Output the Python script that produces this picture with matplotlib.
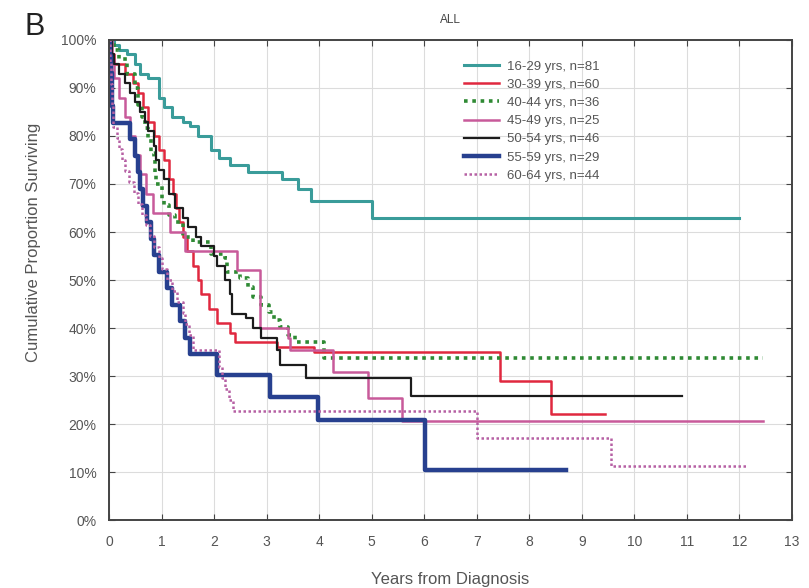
import matplotlib.pyplot as plt

plt.rcParams["font.family"] = ["Liberation Sans", "DejaVu Sans"]

# Kaplan-Meier curves by age group (years, % surviving); last point = end of follow-up
labels = ["16-29 yrs, n=81", "30-39 yrs, n=60", "40-44 yrs, n=36", "45-49 yrs, n=25",
          "50-54 yrs, n=46", "55-59 yrs, n=29", "60-64 yrs, n=44"]

t_1629 = [0, 0.1, 0.2, 0.35, 0.5, 0.6, 0.75, 0.95, 1.05, 1.2, 1.4, 1.55, 1.7, 1.95,
          2.1, 2.3, 2.65, 3.3, 3.6, 3.85, 5.0, 12.0]
s_1629 = [100, 99, 98, 97, 95, 93, 92, 88, 86, 84, 83, 82, 80, 77,
          75.5, 74, 72.5, 71, 69, 66.5, 63, 63]

t_3039 = [0, 0.1, 0.3, 0.45, 0.55, 0.65, 0.75, 0.85, 0.95, 1.05, 1.15, 1.22, 1.27,
          1.33, 1.4, 1.48, 1.6, 1.7, 1.75, 1.9, 2.05, 2.3, 2.4, 3.2, 3.9, 7.45, 8.42, 9.45]
s_3039 = [97, 95, 93, 91, 89, 86, 83, 80, 77, 75, 71, 68, 65,
          62, 59, 56, 53, 50, 47, 44, 41, 39, 37, 36, 35, 29, 22, 22]

t_4044 = [0, 0.1, 0.2, 0.35, 0.5, 0.55, 0.62, 0.68, 0.75, 0.8, 0.85, 0.88, 0.9, 1.0,
          1.05, 1.15, 1.25, 1.4, 1.6, 1.95, 2.2, 2.25, 2.5, 2.65, 2.75, 2.9, 3.05,
          3.15, 3.25, 3.4, 3.55, 4.1, 12.45]
s_4044 = [100, 98, 96, 93, 90, 86.5, 84, 81.7, 79.6, 76.5, 75, 72, 70, 66.7,
          65.6, 63.5, 62, 59, 58, 55.5, 54.5, 51.7, 50.4, 48.5, 46.5, 44.8, 43.3,
          41.7, 40.2, 38.5, 37, 33.7, 33.7]

t_4549 = [0, 0.05, 0.1, 0.2, 0.3, 0.4, 0.5, 0.6, 0.7, 0.84, 1.17, 1.45, 2.43, 2.87,
          3.4, 3.45, 4.27, 4.93, 5.57, 12.45]
s_4549 = [100, 96, 92, 88, 84, 80, 76, 72, 68, 64, 60, 56, 52, 40,
          38, 35.4, 30.8, 25.4, 20.6, 20.6]

t_5054 = [0, 0.05, 0.1, 0.2, 0.3, 0.4, 0.5, 0.6, 0.68, 0.75, 0.85, 0.9, 0.95, 1.05,
          1.15, 1.25, 1.4, 1.5, 1.65, 1.75, 2.0, 2.05, 2.2, 2.3, 2.35, 2.6, 2.75,
          2.9, 3.2, 3.25, 3.75, 5.75, 10.9]
s_5054 = [100, 97, 95, 93, 91, 89, 87, 85, 83, 81, 78, 75, 73, 71,
          68, 65, 63, 61, 59, 57, 55, 53, 50, 47, 43, 42, 40,
          38, 35.5, 32.3, 29.6, 25.8, 25.8]

t_5559 = [0, 0.02, 0.03, 0.05, 0.06, 0.08, 0.4, 0.5, 0.55, 0.6, 0.65, 0.72, 0.8, 0.85,
          0.95, 1.1, 1.2, 1.35, 1.45, 1.55, 2.05, 3.07, 3.98, 6.02, 8.7]
s_5559 = [100, 96.6, 93.1, 89.7, 86.2, 82.8, 79.3, 75.9, 72.4, 69, 65.5, 62.1, 58.6, 55.2,
          51.7, 48.3, 44.8, 41.4, 37.9, 34.5, 30.2, 25.6, 20.8, 10.4, 10.4]

t_6064 = [0, 0.02, 0.04, 0.06, 0.08, 0.15, 0.2, 0.25, 0.3, 0.38, 0.48, 0.55, 0.62, 0.7,
          0.78, 0.85, 0.95, 1.0, 1.1, 1.2, 1.3, 1.4, 1.45, 1.52, 1.6, 2.1, 2.15, 2.2,
          2.28, 2.37, 7.0, 9.55, 12.15]
s_6064 = [100, 95.5, 90.9, 86.4, 81.8, 79.5, 77.3, 75, 72.7, 70.5, 68.2, 65.9, 63.6, 61.4,
          59.1, 56.8, 54.5, 52.3, 50, 47.7, 45.5, 43.2, 40.9, 38.6, 35.5, 31.8, 29.5, 27.3,
          25, 22.7, 17, 11.2, 11.2]

fig = plt.figure(figsize=(8.09, 5.88), dpi=100)
ax = fig.add_axes([0.1347, 0.1156, 0.8443, 0.8164])

ax.step(t_1629, s_1629, where="post", color="#3a9c9a", lw=2.2, label=labels[0])
ax.step(t_3039, s_3039, where="post", color="#e0283f", lw=1.8, label=labels[1])
ax.step(t_4044, s_4044, where="post", color="#2f8a34", lw=2.6, ls=(0, (1, 1.3)), label=labels[2])
ax.step(t_4549, s_4549, where="post", color="#c85a9a", lw=1.8, label=labels[3])
ax.step(t_5054, s_5054, where="post", color="#1c1c1c", lw=1.6, label=labels[4])
ax.step(t_5559, s_5559, where="post", color="#27408f", lw=3.2, label=labels[5])
ax.step(t_6064, s_6064, where="post", color="#b660a4", lw=1.8, ls=(0, (1, 1)), label=labels[6])

ax.set_xlim(0, 13)
ax.set_ylim(0, 100)
ax.set_xticks(range(0, 14))
ax.set_yticks(range(0, 101, 10))
ax.set_yticklabels([f"{v}%" for v in range(0, 101, 10)])
ax.tick_params(direction="in", top=True, right=True, labelsize=10, labelcolor="#555555",
               color="#444444", length=4)
ax.tick_params(axis="x", pad=11)
ax.tick_params(axis="y", pad=9)
ax.grid(True, color="#dcdcdc", lw=0.8)
ax.set_axisbelow(True)
for sp in ax.spines.values():
    sp.set_color("#444444")
    sp.set_linewidth(1.4)

ax.set_xlabel("Years from Diagnosis", fontsize=12, color="#555555", labelpad=16)
ax.set_ylabel("Cumulative Proportion Surviving", fontsize=12, color="#555555")
ax.yaxis.set_label_coords(-0.1, 0.579)
ax.set_title("ALL", fontsize=8.5, color="#444444", pad=12)
fig.text(0.03, 0.94, "B", fontsize=22, color="#222222")

leg = ax.legend(loc="upper left", bbox_to_anchor=(0.503, 0.982), frameon=False, fontsize=9.5,
                handlelength=2.6, labelspacing=0.45, handletextpad=0.6)
for txt in leg.get_texts():
    txt.set_color("#555555")

fig.savefig("out.png", dpi=100)
